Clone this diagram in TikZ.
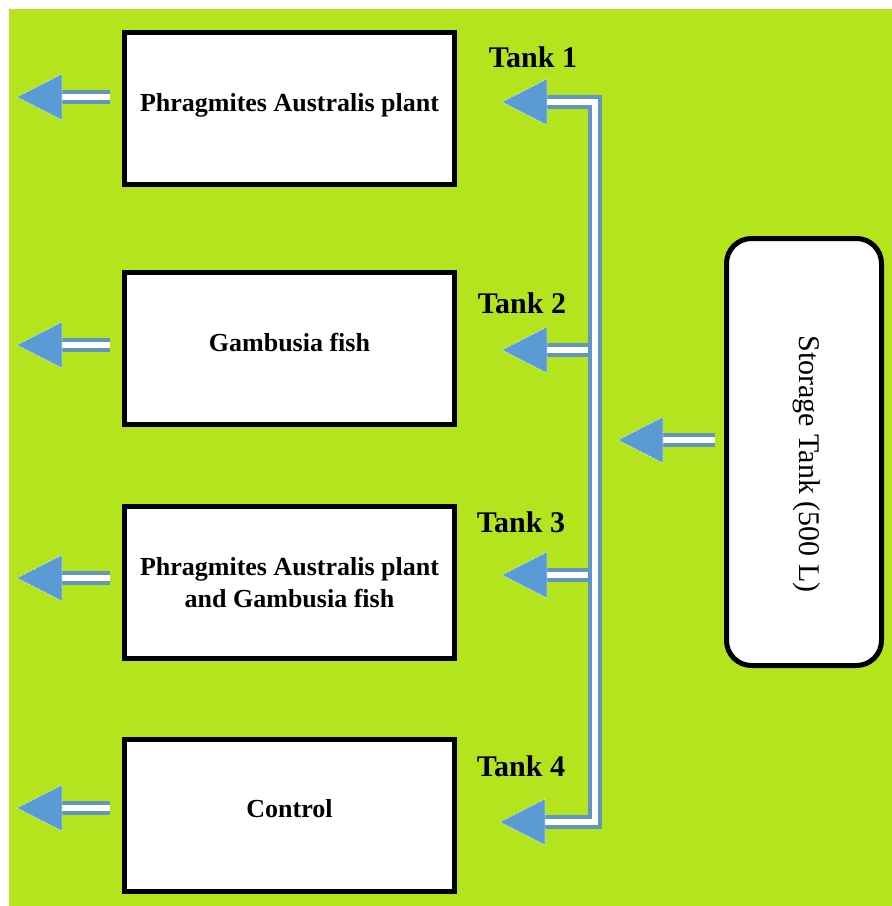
\documentclass[tikz,border=0pt]{standalone}
\usepackage{fontspec}
\setmainfont{Liberation Serif}
\usetikzlibrary{positioning}

\definecolor{bggreen}{RGB}{180,228,30}
\definecolor{arrowblue}{RGB}{91,155,213}
\definecolor{pipeedge}{RGB}{98,150,190}

\tikzset{
    tankbox/.style={draw, line width=5pt, fill=white, minimum width=330pt,
        minimum height=152pt, align=center, inner sep=0pt,
        text height=18pt, text depth=13pt,
        font=\bfseries\fontsize{26}{32}\selectfont},
    tanklabel/.style={font=\bfseries\fontsize{30}{36}\selectfont},
    pipe/.style={draw=pipeedge, line width=4pt, double=white, double distance=6pt},
    arrowhead/.style={fill=arrowblue, draw=white, densely dotted, line width=0.6pt},
}

\begin{document}
\begin{tikzpicture}[x=1pt, y=-1pt]
    \useasboundingbox[fill=white] (0,0) rectangle (892,906);
    \fill[bggreen] (9,9) rectangle (892,906);

    % treatment tanks
    \node[tankbox] (box1) at (289.5,108.5) {Phragmites Australis plant};
    \node[tankbox] (box2) at (289.5,348.5) {Gambusia fish};
    \node[tankbox, text height=, text depth=] (box3) at (289.5,582.5) {Phragmites Australis plant\\and Gambusia fish};
    \node[tankbox] (box4) at (289.5,815) {Control};

    % storage tank
    \node[draw, line width=5pt, fill=white, rounded corners=25pt,
        minimum width=155pt, minimum height=427pt] (store) at (804,452) {};
    \node[rotate=-90, font=\fontsize{30}{36}\selectfont] (storetext) at (807,464) {Storage Tank (500 L)};

    % tank labels
    \node[tanklabel] (lab1) at (533,57) {Tank 1};
    \node[tanklabel] (lab2) at (522,303) {Tank 2};
    \node[tanklabel] (lab3) at (521,522) {Tank 3};
    \node[tanklabel] (lab4) at (521,766) {Tank 4};

    % distribution pipe
    \coordinate (top) at (595,102);
    \coordinate (bot) at (595,822);
    \draw[pipe] (547,102) -- (top) -- (bot) -- (544,822);
    \foreach \y in {350,575} {
        \draw[pipe] (588,\y) -- (544,\y);
    }

    % inlet arrow heads
    \foreach \y/\x in {102/502, 350/502, 575/502, 822/500} {
        \draw[arrowhead] (\x,\y) -- ++(45,-23) -- ++(0,46) -- cycle;
    }

    % feed from storage tank
    \coordinate (feed) at (715,440);
    \draw[pipe] (feed) -- (661,440);
    \draw[arrowhead] (618,440) -- ++(45,-23) -- ++(0,46) -- cycle;

    % outlets
    \foreach \y in {97,345,578,808} {
        \draw[pipe] (110,\y) -- (60,\y);
        \draw[arrowhead] (17,\y) -- ++(45,-23) -- ++(0,46) -- cycle;
    }
\end{tikzpicture}
\end{document}
